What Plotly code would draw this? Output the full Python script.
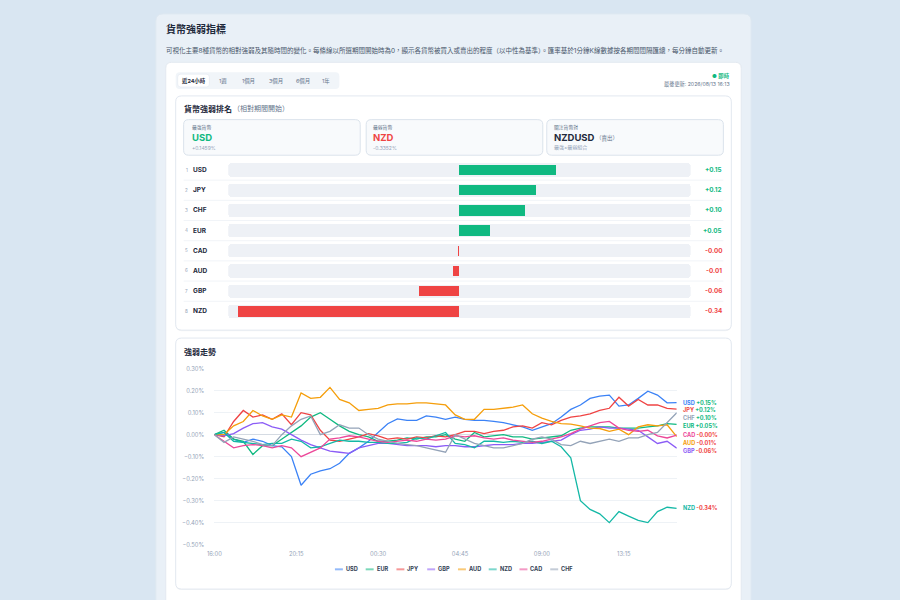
import plotly.graph_objects as go
import pandas as pd

# ---------------- data ----------------
currencies = ["USD", "EUR", "JPY", "GBP", "AUD", "NZD", "CAD", "CHF"]
series_colors = ["#3b82f6", "#10b981", "#ef4444", "#8b5cf6", "#f59e0b", "#14b8a6", "#ec4899", "#94a3b8"]

rank_order = ["USD", "JPY", "CHF", "EUR", "CAD", "AUD", "GBP", "NZD"]
rank_values = [0.1459, 0.1162, 0.0993, 0.0468, -0.0024, -0.0091, -0.0617, -0.3352]

period_tabs = ["近24小時", "1週", "1個月", "3個月", "6個月", "1年"]
last_update = "2026/08/13 16:13"
start_time = "2026-08-12 16:00"
step = "30min"

usd = [0, 0.01, -0.02, -0.035, -0.02, -0.03, -0.05, -0.055, -0.1, -0.23, -0.18, -0.165,
       -0.155, -0.13, -0.085, -0.06, -0.03, 0.01, 0.05, 0.072, 0.065, 0.065, 0.085, 0.08,
       0.07, 0.08, 0.07, 0.065, 0.065, 0.06, 0.055, 0.045, 0.035, 0.02, 0.035, 0.05,
       0.08, 0.115, 0.135, 0.165, 0.175, 0.18, 0.13, 0.135, 0.165, 0.198, 0.18, 0.145, 0.1459]
eur = [0, 0.02, -0.02, -0.03, -0.09, -0.05, -0.05, -0.02, 0.01, 0.04, 0.08, 0.10,
       0.07, 0.04, 0.015, 0.0, -0.01, -0.03, -0.03, -0.025, -0.015, -0.02, -0.01, -0.01,
       0.0, -0.02, -0.03, 0.01, -0.01, -0.005, 0.0, -0.01, -0.01, -0.02, -0.015, -0.01,
       -0.005, 0.02, 0.03, 0.035, 0.035, 0.035, 0.03, 0.03, 0.03, 0.035, 0.04, 0.05, 0.0468]
jpy = [0, -0.01, 0.06, 0.11, 0.08, 0.09, 0.07, 0.095, 0.045, 0.1, 0.09, 0.02,
       -0.025, -0.03, -0.02, -0.01, 0.005, -0.005, -0.02, -0.015, -0.02, -0.01, -0.015, -0.005,
       -0.01, 0.0, 0.015, 0.015, 0.005, 0.015, 0.02, 0.035, 0.04, 0.03, 0.055, 0.045,
       0.065, 0.08, 0.085, 0.095, 0.11, 0.12, 0.17, 0.13, 0.16, 0.135, 0.135, 0.12, 0.1162]
gbp = [0, -0.005, 0.005, 0.03, 0.05, 0.055, 0.035, 0.025, 0.0, -0.025, -0.045, -0.06,
       -0.075, -0.08, -0.085, -0.06, -0.05, -0.04, -0.04, -0.045, -0.05, -0.05, -0.05, -0.055,
       -0.05, -0.05, -0.055, -0.055, -0.05, -0.045, -0.045, -0.045, -0.04, -0.04, -0.035, -0.03,
       -0.025, 0.0, 0.02, 0.025, 0.035, 0.03, 0.03, 0.025, 0.02, -0.01, -0.04, -0.03, -0.0617]
aud = [0, 0.0, 0.04, 0.06, 0.11, 0.085, 0.07, 0.09, 0.08, 0.19, 0.165, 0.17,
       0.215, 0.16, 0.145, 0.11, 0.115, 0.12, 0.135, 0.14, 0.14, 0.145, 0.145, 0.14,
       0.135, 0.09, 0.07, 0.07, 0.115, 0.115, 0.12, 0.125, 0.135, 0.095, 0.075, 0.06,
       0.05, 0.048, 0.04, 0.03, 0.028, 0.015, 0.025, 0.0, 0.035, 0.045, 0.04, 0.045, -0.0091]
nzd = [0, 0.01, -0.03, -0.035, -0.04, -0.045, -0.04, -0.04, -0.02, -0.03, -0.06, -0.055,
       -0.04, -0.025, -0.03, -0.03, -0.035, -0.035, -0.04, -0.04, -0.035, -0.015, -0.02, -0.005,
       0.01, -0.04, -0.045, -0.06, -0.03, -0.03, -0.035, -0.03, -0.035, -0.03, -0.04, -0.03,
       -0.055, -0.105, -0.30, -0.34, -0.36, -0.40, -0.35, -0.37, -0.39, -0.40, -0.35, -0.33, -0.3352]
cad = [0, -0.03, -0.06, -0.05, -0.045, -0.05, -0.06, -0.05, -0.06, -0.1, -0.08, -0.06,
       -0.02, -0.015, -0.005, -0.01, -0.02, -0.03, -0.035, -0.03, -0.025, -0.03, -0.02, -0.025,
       -0.02, -0.005, -0.01, -0.005, -0.015, -0.02, -0.015, -0.025, -0.03, -0.035, -0.03, -0.02,
       -0.01, 0.005, 0.025, 0.04, 0.055, 0.06, 0.03, 0.02, 0.015, 0.02, -0.005, -0.015, -0.0024]
chf = [0, -0.035, -0.01, -0.02, -0.03, -0.045, -0.05, 0.0, 0.04, 0.07, 0.085, 0.0,
       0.015, 0.045, 0.03, 0.03, 0.0, -0.02, -0.03, -0.04, -0.045, -0.05, -0.06, -0.07,
       -0.08, 0.0, -0.02, -0.04, -0.05, -0.06, -0.06, -0.05, -0.04, -0.02, -0.01, -0.02,
       -0.045, -0.05, -0.03, -0.04, -0.03, -0.02, -0.03, -0.015, -0.015, 0.0, 0.01, 0.055, 0.0993]

series_values = [usd, eur, jpy, gbp, aud, nzd, cad, chf]

# ---------------- helpers ----------------
W, H = 900, 600
FONT = "Inter, 'Noto Sans CJK TC', 'Noto Sans', sans-serif"
GREEN = "#10b981"
RED = "#ef4444"
DARK = "#1e293b"
GRAY = "#64748b"
LGRAY = "#94a3b8"


def X(px):
    return px / W


def Y(py):
    return 1 - py / H


def rrect(x0, y0, x1, y1, r, fill, line=None, lw=1):
    p = (f"M {X(x0 + r)},{Y(y0)} L {X(x1 - r)},{Y(y0)} Q {X(x1)},{Y(y0)} {X(x1)},{Y(y0 + r)} "
         f"L {X(x1)},{Y(y1 - r)} Q {X(x1)},{Y(y1)} {X(x1 - r)},{Y(y1)} "
         f"L {X(x0 + r)},{Y(y1)} Q {X(x0)},{Y(y1)} {X(x0)},{Y(y1 - r)} "
         f"L {X(x0)},{Y(y0 + r)} Q {X(x0)},{Y(y0)} {X(x0 + r)},{Y(y0)} Z")
    return dict(type="path", path=p, xref="paper", yref="paper", fillcolor=fill,
                line=dict(color=line or "rgba(0,0,0,0)", width=lw if line else 0), layer="below")


annotations = []


def ann(px, py, text, size, color, xanchor="left", **kw):
    d = dict(x=X(px), y=Y(py), xref="paper", yref="paper", text=text, showarrow=False,
             xanchor=xanchor, yanchor="middle", font=dict(size=size, color=color, family=FONT))
    d.update(kw)
    annotations.append(d)


shapes = []
# page panels
shapes.append(rrect(150, 10, 750, 660, 7, "#e9f0f7", "#dde7f1"))
shapes.append(rrect(160, 59, 740, 660, 6, "#ffffff", "#e3e9f0"))
# tabs
shapes.append(rrect(170, 69, 335, 86, 4, "#f1f5f9"))
shapes.append(rrect(172, 71, 204, 84, 3, "#ffffff", "#e2e8f0", 0.6))
# rank card
shapes.append(rrect(170, 94, 730, 331, 6, "rgba(15,23,42,0.04)"))
shapes.append(rrect(170, 93, 730, 330, 6, "#ffffff", "#e2e8f0"))
# stat cards
for cx0, cx1 in [(178, 356), (362, 540), (544, 722)]:
    shapes.append(rrect(cx0, 117, cx1, 153, 5, "#f8fafc", "#dbe3ec"))
# trend card
shapes.append(rrect(170, 339, 730, 593, 6, "rgba(15,23,42,0.04)"))
shapes.append(rrect(170, 338, 730, 592, 6, "#ffffff", "#e2e8f0"))

# ---------------- header texts ----------------
ann(158, 25, "<b>貨幣強弱指標</b>", 10, DARK)
desc = ("可視化主要8種貨幣的相對強弱及其隨時間的變化。每條線以所選期間開始時為0，顯示各貨幣被買入或賣出的程度"
        "（以中性為基準）。匯率基於1分鐘K線數據按各期間間隔匯總，每分鐘自動更新。")
ann(158, 47, desc, 6.5, "#475569")
tab_x = [188, 218, 243, 271, 298, 322]
for i, (t, tx) in enumerate(zip(period_tabs, tab_x)):
    ann(tx, 77.5, f"<b>{t}</b>" if i == 0 else t, 5.4, DARK if i == 0 else GRAY, xanchor="center")
ann(731, 72.5, "● <b>即時</b>", 5.3, GREEN, xanchor="right")
ann(731, 81, f"最後更新: {last_update}", 5.2, GRAY, xanchor="right")

# ---------------- ranking ----------------
ann(176, 106, "<b>貨幣強弱排名</b>", 8, DARK)
ann(226, 106, "（相對期間開始）", 7, GRAY)

i_max = max(range(len(rank_values)), key=lambda i: rank_values[i])
i_min = min(range(len(rank_values)), key=lambda i: rank_values[i])
strong, weak = rank_order[i_max], rank_order[i_min]
cards = [
    (184, "最強貨幣", f"<b>{strong}</b>", GREEN, f"{rank_values[i_max]:+.4f}%"),
    (367, "最弱貨幣", f"<b>{weak}</b>", RED, f"{rank_values[i_min]:+.4f}%"),
    (549, "關注貨幣對", f"<b>{weak}{strong}</b>", DARK, "最強×最弱組合"),
]
for cx, lab, val, col, sub in cards:
    ann(cx, 125, lab, 4.8, GRAY)
    ann(cx, 135.5, val, 9.5, col)
    ann(cx, 145.5, sub, 5, LGRAY)
ann(592, 136, "（賣出）", 5.5, GRAY)

half = 0.35
bar_colors = [GREEN if v >= 0 else RED for v in rank_values]

fig = go.Figure()
fig.add_trace(go.Bar(y=rank_order, x=[half] * 8, orientation="h", width=0.66,
                     marker=dict(color="#eef1f6", line=dict(width=0)), xaxis="x", yaxis="y",
                     showlegend=False, hoverinfo="skip"))
fig.add_trace(go.Bar(y=rank_order, x=[-half] * 8, orientation="h", width=0.66,
                     marker=dict(color="#eef1f6", line=dict(width=0)), xaxis="x", yaxis="y",
                     showlegend=False, hoverinfo="skip"))
fig.add_trace(go.Bar(y=rank_order, x=rank_values, orientation="h", width=0.52,
                     marker=dict(color=bar_colors, line=dict(width=0)), xaxis="x", yaxis="y",
                     showlegend=False, hoverinfo="skip"))

for i, (c, v) in enumerate(zip(rank_order, rank_values)):
    annotations.append(dict(x=X(181), y=c, xref="paper", yref="y", text=str(i + 1), showarrow=False,
                            xanchor="center", yanchor="middle", font=dict(size=4.5, color=LGRAY, family=FONT)))
    annotations.append(dict(x=X(185), y=c, xref="paper", yref="y", text=f"<b>{c}</b>", showarrow=False,
                            xanchor="left", yanchor="middle", font=dict(size=6.5, color=DARK, family=FONT)))
    annotations.append(dict(x=X(723), y=c, xref="paper", yref="y", text=f"<b>{v:+.2f}</b>", showarrow=False,
                            xanchor="right", yanchor="middle",
                            font=dict(size=6.3, color=GREEN if v >= 0 else RED, family=FONT)))
for i in range(len(rank_order) - 1):
    shapes.append(dict(type="line", xref="paper", yref="y", x0=X(178), x1=X(722), y0=i + 0.5, y1=i + 0.5,
                       line=dict(color="#f1f4f8", width=1), layer="below"))

# ---------------- trend ----------------
ann(176, 352, "<b>強弱走勢</b>", 8, DARK)
times = pd.date_range(start=start_time, periods=len(usd), freq=step)

for name, col, vals in zip(currencies, series_colors, series_values):
    fig.add_trace(go.Scatter(x=times, y=vals, mode="lines", name=name,
                             line=dict(color=col, width=1.3), xaxis="x2", yaxis="y2",
                             showlegend=False, hoverinfo="skip"))

# end labels with simple de-overlap
finals = [(vals[-1], name, col) for name, col, vals in zip(currencies, series_colors, series_values)]
finals.sort(key=lambda t: -t[0])
gap = 0.036
prev = None
for v, name, col in finals:
    pos = v if prev is None else min(v, prev - gap)
    prev = pos
    annotations.append(dict(
        x=times[-1], y=pos, xref="x2", yref="y2", xshift=4, showarrow=False, xanchor="left", yanchor="middle",
        text=f"<b><span style='color:{col}'>{name}</span> <span style='color:{GREEN if v >= 0 else RED}'>{v:+.2f}%</span></b>",
        font=dict(size=5.6, family=FONT)))

# manual legend
leg_step = 31
leg_start = 450 - (leg_step * (len(currencies) - 1) + 22) / 2
for i, (name, col) in enumerate(zip(currencies, series_colors)):
    lx = leg_start + i * leg_step
    shapes.append(dict(type="line", xref="paper", yref="paper", x0=X(lx), x1=X(lx + 8), y0=Y(572), y1=Y(572),
                       line=dict(color=col, width=2), opacity=0.55))
    ann(lx + 9, 572, f"<b>{name}</b>", 5.6, "#334155")

t_end = times[-1]
fig.update_layout(
    width=W, height=H, margin=dict(l=0, r=0, t=0, b=0),
    paper_bgcolor="#d9e6f2", plot_bgcolor="rgba(0,0,0,0)",
    barmode="overlay", barcornerradius=3, bargap=0,
    hovermode=False, showlegend=False,
    font=dict(family=FONT),
    xaxis=dict(domain=[X(223), X(689)], range=[-half, half], visible=False, fixedrange=True, anchor="y"),
    yaxis=dict(domain=[Y(321.2), Y(157.8)], type="category", categoryorder="array", categoryarray=rank_order,
               range=[7.5, -0.5], visible=False, anchor="x"),
    xaxis2=dict(domain=[X(209), X(675)], type="date", range=[times[0], t_end], anchor="y2",
                tick0=times[0], dtick=4.25 * 3600 * 1000, tickformat="%H:%M",
                showgrid=False, zeroline=False, showline=False,
                ticks="outside", ticklen=3, tickcolor="rgba(0,0,0,0)",
                tickfont=dict(size=5.8, color=LGRAY, family=FONT)),
    yaxis2=dict(domain=[Y(547), Y(369)], range=[-0.5, 0.3], dtick=0.1, tickformat=".2f", ticksuffix="%",
                anchor="x2", showgrid=True, gridcolor="#eef2f6", gridwidth=1,
                zeroline=True, zerolinecolor="#d5dbe3", zerolinewidth=1, showline=False,
                ticks="outside", ticklen=8, tickcolor="rgba(0,0,0,0)",
                tickfont=dict(size=5.8, color=LGRAY, family=FONT)),
    shapes=shapes, annotations=annotations,
)

fig.write_html("out.html", config={"displayModeBar": False, "staticPlot": True},
               post_script="document.body.style.margin='0';document.body.style.overflow='hidden';")
